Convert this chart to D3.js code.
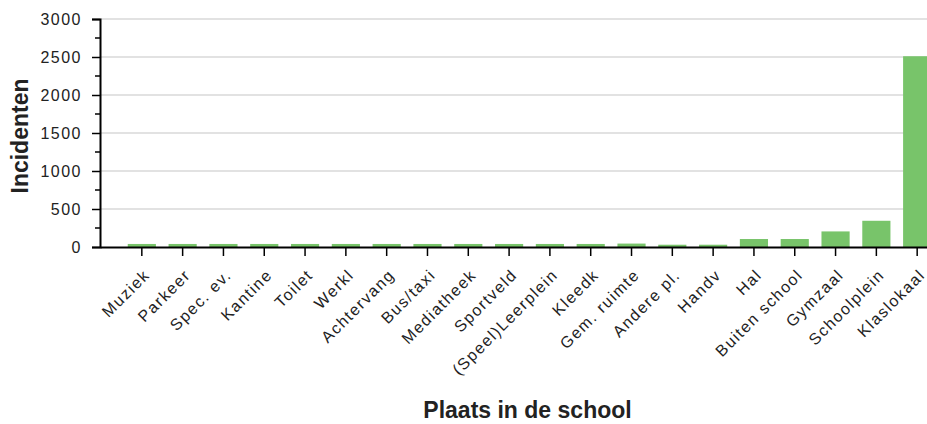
<!DOCTYPE html>
<html>
<head>
<meta charset="utf-8">
<script src="https://cdn.jsdelivr.net/npm/d3@7"></script>
<style>
  html, body { margin: 0; padding: 0; background: #fff; }
  svg { display: block; }
  text { font-family: "Liberation Sans", Arial, sans-serif; }
</style>
</head>
<body>
<svg id="chart" width="927" height="424"></svg>
<script>
const categories = ["Muziek", "Parkeer", "Spec. ev.", "Kantine", "Toilet", "Werkl", "Achtervang",
  "Bus/taxi", "Mediatheek", "Sportveld", "(Speel)Leerplein", "Kleedk", "Gem. ruimte",
  "Andere pl.", "Handv", "Hal", "Buiten school", "Gymzaal", "Schoolplein", "Klaslokaal"];
const incidents = [40, 40, 40, 40, 40, 40, 40, 40, 40, 40, 40, 40, 45, 30, 30, 105, 105, 205, 345, 2510];
const yTicks = [0, 500, 1000, 1500, 2000, 2500, 3000];
const yMinorTicks = [250, 750, 1250, 1750, 2250, 2750];
const xTitle = "Plaats in de school";
const yTitle = "Incidenten";

const svg = d3.select("#chart");
const mLeft = 100, mRight = 959, mTop = 19, mBottom = 247;

const x = d3.scaleBand().domain(categories).range([mLeft, mRight])
  .paddingInner(0.31).paddingOuter(0.68);
const y = d3.scaleLinear().domain([0, 3000]).range([mBottom, mTop]);

// gridlines
svg.append("g").selectAll("line").data(yTicks.filter(d => d > 0)).join("line")
  .attr("x1", mLeft).attr("x2", 927)
  .attr("y1", d => y(d)).attr("y2", d => y(d))
  .attr("stroke", "#d9d9d9").attr("stroke-width", 1.5);

// bars
svg.append("g").selectAll("rect").data(categories).join("rect")
  .attr("x", d => x(d))
  .attr("width", x.bandwidth())
  .attr("y", (d, i) => y(incidents[i]))
  .attr("height", (d, i) => y(0) - y(incidents[i]))
  .attr("fill", "#78c46a");

// y axis
const yAxis = svg.append("g").attr("transform", `translate(${mLeft},0)`)
  .call(d3.axisLeft(y).tickValues(yTicks).tickSize(8).tickPadding(10).tickFormat(d3.format("d")));
yAxis.append("g").selectAll("line").data(yMinorTicks).join("line")
  .attr("x1", -5).attr("x2", 0)
  .attr("y1", d => y(d)).attr("y2", d => y(d))
  .attr("stroke", "#000").attr("stroke-width", 1.5);
yAxis.select(".domain").attr("stroke", "#000").attr("stroke-width", 2);
yAxis.selectAll(".tick line").attr("stroke", "#000").attr("stroke-width", 1.5);
yAxis.selectAll(".tick text")
  .attr("font-size", 16).attr("fill", "#222").style("letter-spacing", "1.5px")
  .attr("font-family", "Liberation Sans, Arial, sans-serif");

// x axis
const xAxis = svg.append("g").attr("transform", `translate(0,${mBottom})`)
  .call(d3.axisBottom(x).tickSize(9).tickSizeOuter(0).tickFormat(""));
xAxis.select(".domain").attr("stroke", "#000").attr("stroke-width", 2);
xAxis.selectAll(".tick line").attr("stroke", "#000").attr("stroke-width", 1.5);

// x labels (rotated)
svg.append("g").selectAll("text").data(categories).join("text")
  .attr("transform", d => `translate(${x(d) + x.bandwidth() / 2 + 9},${mBottom + 29}) rotate(-45)`)
  .attr("text-anchor", "end")
  .attr("font-size", 16).attr("fill", "#222")
  .style("letter-spacing", "1.5px")
  .text(d => d);

// axis titles
svg.append("text")
  .attr("x", (mLeft + mRight) / 2 - 2).attr("y", 418)
  .attr("text-anchor", "middle")
  .attr("font-size", 23).attr("font-weight", "bold").attr("fill", "#222")
  .text(xTitle);

svg.append("text")
  .attr("transform", `translate(28,${(mTop + mBottom) / 2 + 3}) rotate(-90)`)
  .attr("text-anchor", "middle")
  .attr("font-size", 23).attr("font-weight", "bold").attr("fill", "#222")
  .text(yTitle);
</script>
</body>
</html>
